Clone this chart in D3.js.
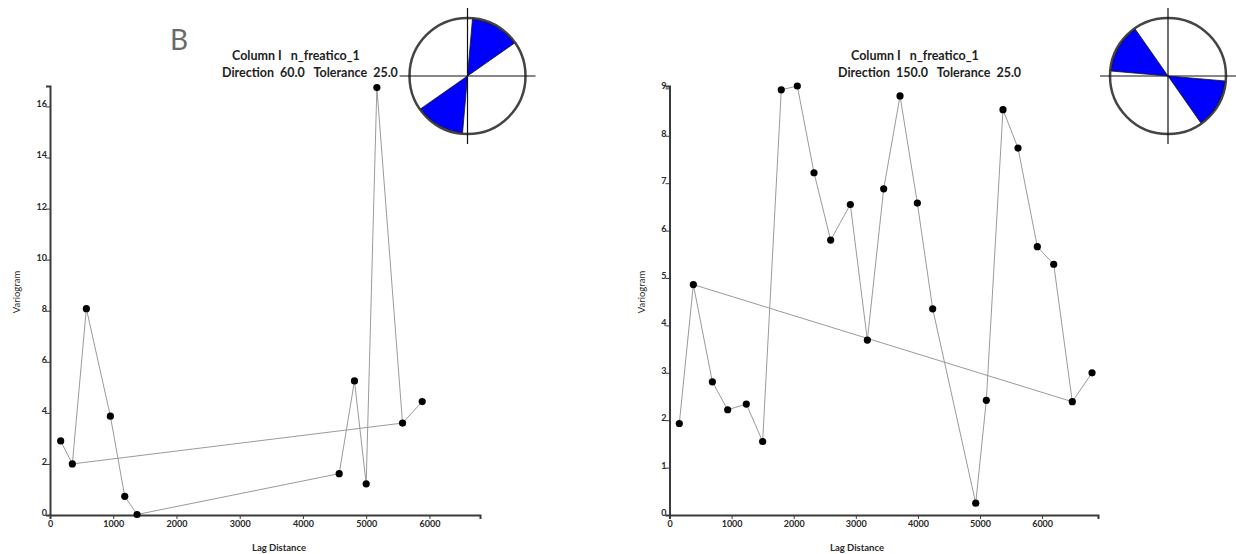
<!DOCTYPE html>
<html>
<head>
<meta charset="utf-8">
<script src="https://cdn.jsdelivr.net/npm/d3@7"></script>
<style>
  body { margin: 0; background: #fff; }
  svg { display: block; }
  .title { font-family: Lato, sans-serif; font-weight: bold; font-size: 12.5px; fill: #1e1e1e; white-space: pre; }
  .tick-lab { font-family: Lato, sans-serif; font-weight: bold; font-size: 9px; fill: #2a2a2a; }
  .ax-lab { font-family: Lato, sans-serif; font-size: 9.5px; fill: #2a2a2a; }
</style>
</head>
<body>
<svg id="chart" width="1236" height="554"></svg>
<script>
// left panel: direction 60
var leftLag   = [169, 353, 575, 955, 1182, 1377, 4573, 4815, 5000, 5169, 5575, 5886]
var leftGamma = [2.9, 2.0, 8.08, 3.87, 0.73, 0.02, 1.62, 5.25, 1.22, 16.74, 3.6, 4.44]
var leftJump  = [1, 10]   // extra segment drawn by the program
var leftYTicks = [0, 2, 4, 6, 8, 10, 12, 14, 16]

// right panel: direction 150
var rightLag   = [158, 384, 690, 937, 1237, 1500, 1800, 2058, 2327, 2595, 2912, 3186,
                  3449, 3712, 3991, 4238, 4931, 5102, 5370, 5612, 5923, 6187, 6486, 6804]
var rightGamma = [1.93, 4.86, 2.81, 2.22, 2.34, 1.55, 8.97, 9.05, 7.22, 5.8, 6.55, 3.69,
                  6.88, 8.84, 6.58, 4.35, 0.25, 2.42, 8.55, 7.74, 5.66, 5.29, 2.39, 3.0]
var rightJump  = [1, 22]
var rightYTicks = [0, 1, 2, 3, 4, 5, 6, 7, 8, 9]

var xTicks = [0, 1000, 2000, 3000, 4000, 5000, 6000]
var directions = [60, 150]
var tolerance = 25
var columnName = "n_freatico_1"

var svg = d3.select("#chart")

var drawPanel = function(p) {
    var xScale = d3.scaleLinear().domain([0, p.xMax]).range([p.left, p.right])
    var yScale = d3.scaleLinear().domain([0, p.yMax]).range([515, 86])
    var g = svg.append("g")

    // axes
    var yAxis = d3.axisLeft(yScale).tickValues(p.yTicks).tickSize(4).tickFormat(d3.format("d"))
    var gy = g.append("g").attr("transform", "translate(" + p.left + ",0)").call(yAxis)
    var xAxis = d3.axisBottom(xScale).tickValues(xTicks).tickSize(4).tickFormat(d3.format("d"))
    var gx = g.append("g").attr("transform", "translate(0,515)").call(xAxis)
    ;[gx, gy].forEach(function(a) {
        a.select(".domain").attr("stroke", "#3a3a3a").attr("stroke-width", 2)
        a.selectAll(".tick line").attr("stroke", "#3a3a3a").attr("stroke-width", 1)
        a.selectAll(".tick text").attr("class", "tick-lab").attr("fill", null)
        a.attr("font-family", null).attr("font-size", null)
    })
    gy.selectAll(".tick text").attr("x", -3).attr("dy", "0.05em")
    gx.selectAll(".tick text").attr("y", 6)

    // lines
    var pts = p.lag.map(function(d, i) { return [xScale(d), yScale(p.gamma[i])] })
    g.append("path")
        .attr("d", d3.line()(pts))
        .attr("fill", "none").attr("stroke", "#9a9a9a").attr("stroke-width", 1)
    g.append("path")
        .attr("d", d3.line()([pts[p.jump[0]], pts[p.jump[1]]]))
        .attr("fill", "none").attr("stroke", "#9a9a9a").attr("stroke-width", 1)

    g.selectAll("circle.pt")
        .data(pts)
        .enter()
        .append("circle")
            .attr("class", "pt")
            .attr("cx", function(d) { return d[0] })
            .attr("cy", function(d) { return d[1] })
            .attr("r", 3.6)
            .attr("fill", "#000")

    // labels
    g.append("text").attr("class", "ax-lab").style("font-weight", "bold")
        .attr("text-anchor", "middle").attr("x", p.xLabX).attr("y", 551)
        .text("Lag Distance")
    g.append("text").attr("class", "ax-lab")
        .attr("text-anchor", "middle")
        .attr("transform", "translate(" + p.yLabX + ",292) rotate(-90)")
        .text("Variogram")

    var sp = function(n) { return "\u00a0".repeat(n) }
    g.append("text").attr("class", "title").attr("x", p.t1x).attr("y", 60)
        .text("Column I" + sp(3) + columnName)
    g.append("text").attr("class", "title").attr("x", p.t2x).attr("y", 77)
        .text("Direction" + sp(2) + p.dir.toFixed(1) + sp(3) + "Tolerance" + sp(2) + tolerance.toFixed(1))

    // direction rose
    var r = 58
    var rose = g.append("g").attr("transform", "translate(" + p.cx + ",76)")
    rose.append("circle").attr("r", r).attr("fill", "#fff")
        .attr("stroke", "#444").attr("stroke-width", 2.5)
    var az = 90 - p.dir
    var arc = d3.arc().innerRadius(0).outerRadius(r - 1)
    ;[0, 180].forEach(function(off) {
        rose.append("path")
            .attr("d", arc({ startAngle: (az - tolerance + off) * Math.PI / 180,
                             endAngle: (az + tolerance + off) * Math.PI / 180 }))
            .attr("fill", "#0000ff").attr("stroke", "#111").attr("stroke-width", 0.8)
    })
    rose.append("line").attr("x1", -r - 10).attr("x2", r + 10).attr("y1", 0).attr("y2", 0)
        .attr("stroke", "#111").attr("stroke-width", 1.2)
    rose.append("line").attr("y1", -r - 10).attr("y2", r + 10).attr("x1", 0).attr("x2", 0)
        .attr("stroke", "#111").attr("stroke-width", 1.2)
}

drawPanel({ lag: leftLag, gamma: leftGamma, jump: leftJump, yTicks: leftYTicks,
            dir: directions[0], xMax: 6800, yMax: 16.8, left: 50, right: 480,
            xLabX: 279, yLabX: 20, t1x: 232, t2x: 222, cx: 467.5 })
drawPanel({ lag: rightLag, gamma: rightGamma, jump: rightJump, yTicks: rightYTicks,
            dir: directions[1], xMax: 6900, yMax: 9.05, left: 669.5, right: 1098,
            xLabX: 857, yLabX: 645, t1x: 851, t2x: 838, cx: 1168 })

svg.append("text")
    .attr("x", 170).attr("y", 50)
    .style("font-family", "Lato, sans-serif").style("font-size", "28px").style("fill", "#6a6a6a")
    .text("B")
</script>
</body>
</html>
